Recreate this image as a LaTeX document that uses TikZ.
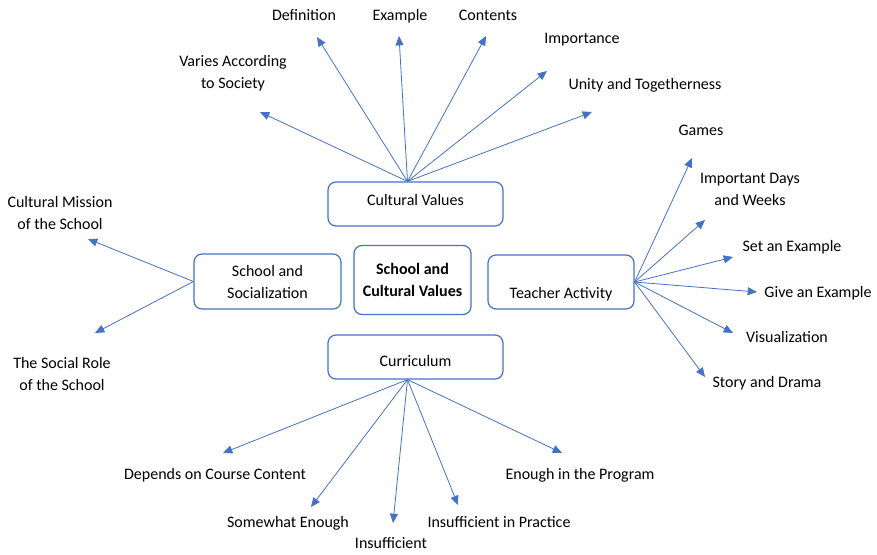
\documentclass[tikz,border=0pt]{standalone}
\usepackage{fontspec}
\setmainfont{Carlito}
\usepackage{xcolor}
\usetikzlibrary{arrows.meta}
\definecolor{mapblue}{HTML}{4472C4}

\begin{document}
\begin{tikzpicture}[x=0.75pt, y=-0.75pt, font=\fontsize{12}{16.5}\selectfont,
    box/.style={draw=mapblue, line width=0.9pt, rounded corners=6pt, fill=white, align=center, inner sep=0pt},
    leaf/.style={align=center, inner sep=0pt, text height=9pt, text depth=2.5pt},
    leaftwo/.style={leaf, text height=, text depth=},
    arr/.style={draw=mapblue, line width=0.6pt, -{Triangle[length=7pt, width=6pt]}}]
    \useasboundingbox (0,0) rectangle (877,554);

    % main boxes
    \node[box, minimum width=131.25pt, minimum height=33pt] (cv) at (415.5,204) {\raisebox{3pt}[\height][\depth]{Cultural Values}};
    \node[box, minimum width=87.75pt, minimum height=51.75pt, font=\fontsize{12}{16.5}\selectfont\bfseries] (core) at (412.5,280) {School and\\Cultural Values};
    \node[box, minimum width=110.25pt, minimum height=41.25pt] (soc) at (267.5,281.5) {School and\\Socialization};
    \node[box, minimum width=109.5pt, minimum height=40.5pt] (ta) at (561,282) {\raisebox{-9pt}[\height][\depth]{Teacher Activity}};
    \node[box, minimum width=131.25pt, minimum height=33pt] (cur) at (415.5,357) {\raisebox{-3pt}[\height][\depth]{Curriculum}};

    % labels
    \node[leaf] (lDef) at (304,16) {Definition};
    \node[leaf] (lEx) at (400,16) {Example};
    \node[leaf] (lCon) at (488,16) {Contents};
    \node[leaf] (lImp) at (582,39) {Importance};
    \node[leaf] (lUni) at (645,85) {Unity and Togetherness};
    \node[leaftwo] (lVar) at (233,73) {Varies According\\to Society};
    \node[leaf] (lGam) at (701,131) {Games};
    \node[leaftwo] (lDay) at (750,189) {Important Days\\and Weeks};
    \node[leaf] (lSet) at (792,247) {Set an Example};
    \node[leaf] (lGive) at (818,293) {Give an Example};
    \node[leaf] (lVis) at (787,338) {Visualization};
    \node[leaf] (lSto) at (767,383) {Story and Drama};
    \node[leaftwo] (lMis) at (60,212.5) {Cultural Mission\\of the School};
    \node[leaftwo] (lRole) at (62,373.5) {The Social Role\\of the School};
    \node[leaf] (lDep) at (215,475) {Depends on Course Content};
    \node[leaf] (lSom) at (288,523) {Somewhat Enough};
    \node[leaf] (lIns) at (391,544) {Insufficient};
    \node[leaf] (lPra) at (499,523) {Insufficient in Practice};
    \node[leaf] (lPro) at (580,475) {Enough in the Program};

    % arrow ends
    \coordinate (tDef) at (317,37);
    \coordinate (tEx) at (399,36);
    \coordinate (tCon) at (486,36);
    \coordinate (tImp) at (547,71);
    \coordinate (tUni) at (592,112);
    \coordinate (tVar) at (260,112);
    \coordinate (tGam) at (692,158);
    \coordinate (tDay) at (705,220);
    \coordinate (tSet) at (733,257);
    \coordinate (tGive) at (757,292);
    \coordinate (tVis) at (733,333);
    \coordinate (tSto) at (705,377);
    \coordinate (tMis) at (88,239);
    \coordinate (tRole) at (95,333);
    \coordinate (tDep) at (223,453);
    \coordinate (tSom) at (311,507);
    \coordinate (tIns) at (393,523);
    \coordinate (tPra) at (458,505);
    \coordinate (tPro) at (562,453);

    \draw[arr] ([xshift=-6pt]cv.north) -- (tDef);
    \draw[arr] ([xshift=-6pt]cv.north) -- (tEx);
    \draw[arr] ([xshift=-6pt]cv.north) -- (tCon);
    \draw[arr] ([xshift=-6pt]cv.north) -- (tImp);
    \draw[arr] ([xshift=-6pt]cv.north) -- (tUni);
    \draw[arr] ([xshift=-6pt]cv.north) -- (tVar);

    \draw[arr] (ta.east) -- (tGam);
    \draw[arr] (ta.east) -- (tDay);
    \draw[arr] (ta.east) -- (tSet);
    \draw[arr] (ta.east) -- (tGive);
    \draw[arr] (ta.east) -- (tVis);
    \draw[arr] (ta.east) -- (tSto);

    \draw[arr] (soc.west) -- (tMis);
    \draw[arr] (soc.west) -- (tRole);

    \draw[arr] ([xshift=-6pt]cur.south) -- (tDep);
    \draw[arr] ([xshift=-6pt]cur.south) -- (tSom);
    \draw[arr] ([xshift=-6pt]cur.south) -- (tIns);
    \draw[arr] ([xshift=-6pt]cur.south) -- (tPra);
    \draw[arr] ([xshift=-6pt]cur.south) -- (tPro);
\end{tikzpicture}
\end{document}
